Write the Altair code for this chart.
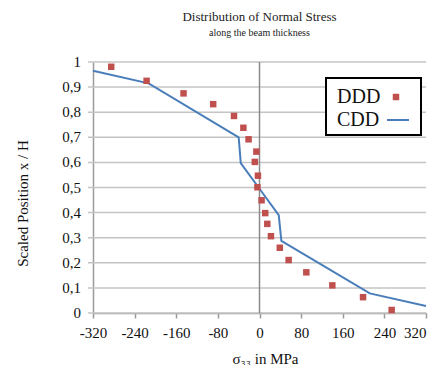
import altair as alt
import pandas as pd

# DDD (discrete) data points: stress in MPa, scaled position
ddd_stress = [-285, -217, -146, -89, -49, -31, -21, -6, -9, -3, -4, 4, 11, 15, 22, 39, 56, 90, 140, 199, 254]
ddd_pos = [0.981, 0.925, 0.875, 0.832, 0.785, 0.738, 0.692, 0.643, 0.602, 0.547, 0.501,
           0.449, 0.398, 0.355, 0.306, 0.260, 0.211, 0.162, 0.110, 0.063, 0.012]

# CDD (continuous) line
cdd_stress = [-320, -213, -40, -36, 0, 37, 42, 212, 320]
cdd_pos = [0.965, 0.915, 0.700, 0.597, 0.495, 0.390, 0.287, 0.078, 0.028]

x_ticks = [-320, -240, -160, -80, 0, 80, 160, 240, 320]
y_ticks = [0, 0.1, 0.2, 0.3, 0.4, 0.5, 0.6, 0.7, 0.8, 0.9, 1]
y_labels = ["0", "0,1", "0,2", "0,3", "0,4", "0,5", "0,6", "0,7", "0,8", "0,9", "1"]

ddd = pd.DataFrame({"s": ddd_stress, "p": ddd_pos})
cdd = pd.DataFrame({"s": cdd_stress, "p": cdd_pos, "o": list(range(len(cdd_stress)))})
yt = pd.DataFrame({"p": y_ticks, "lab": y_labels})

FONT = "Liberation Serif"
W, H = 333, 251

xscale = alt.Scale(domain=[-320, 320], nice=False, zero=False)
yscale = alt.Scale(domain=[0, 1], nice=False)

xaxis = alt.Axis(values=x_ticks, grid=False, title="σ₃₃ in MPa", titleX=172, titleY=45,
                 titleBaseline="middle", titleAlign="center",
                 labelExpr="replace(format(datum.value, 'd'), '−', '-')",
                 labelAlign={"condition": {"test": "datum.value >= 320", "value": "right"}, "value": "center"},
                 labelFlush=False, labelOverlap=False)
yaxis = alt.Axis(labels=False, ticks=False, grid=False, title="Scaled Position  x / H",
                 titleX=-71, titleY=141, titleAngle=-90, titleBaseline="middle", titleAlign="center")

X = alt.X("s:Q", scale=xscale, axis=xaxis)
Y = alt.Y("p:Q", scale=yscale, axis=yaxis)

grid = alt.Chart(yt).mark_rule(color="#c4c4c4", strokeWidth=1.5).encode(
    y=alt.Y("p:Q", scale=yscale, axis=yaxis), x=alt.value(-5), x2=alt.value(W))
ylab = alt.Chart(yt).mark_text(font=FONT, fontSize=15, align="right", baseline="middle",
                               color="#111").encode(
    y=alt.Y("p:Q", scale=yscale, axis=yaxis), x=alt.value(-12), text="lab:N")

points = alt.Chart(ddd).mark_square(size=42, color="#c0504d", opacity=1).encode(x=X, y=Y)

zero = alt.Chart(pd.DataFrame({"s": [0]})).mark_rule(color="#8a8a8a", strokeWidth=1.5).encode(x=X)

line = alt.Chart(cdd).mark_line(color="#4a7ebb", strokeWidth=2).encode(x=X, y=Y, order="o:Q")

one = pd.DataFrame({"a": [0]})
leg_box = alt.Chart(one).mark_rect(fill="white", stroke="black", strokeWidth=2).encode(
    x=alt.value(233), x2=alt.value(328), y=alt.value(16), y2=alt.value(73))
leg_t1 = alt.Chart(one).mark_text(font=FONT, fontSize=20, align="left", baseline="middle",
                                  color="#111").encode(x=alt.value(244), y=alt.value(35), text=alt.value("DDD"))
leg_t2 = alt.Chart(one).mark_text(font=FONT, fontSize=20, align="left", baseline="middle",
                                  color="#111").encode(x=alt.value(244), y=alt.value(58), text=alt.value("CDD"))
leg_sq = alt.Chart(one).mark_square(size=42, color="#c0504d", opacity=1).encode(
    x=alt.value(303), y=alt.value(35))
leg_ln = alt.Chart(one).mark_rule(color="#4a7ebb", strokeWidth=2).encode(
    x=alt.value(294), x2=alt.value(316), y=alt.value(58))

chart = alt.layer(grid, ylab, zero, line, points, leg_box, leg_t1, leg_t2, leg_sq, leg_ln).properties(
    width=W, height=H,
    padding={"left": 85, "top": 54, "right": 4, "bottom": 52},
    autosize=alt.AutoSizeParams(type="none"),
    title=alt.TitleParams(
        text="Distribution of Normal Stress",
        subtitle="along the beam thickness",
        font=FONT, fontSize=13, fontWeight="normal", color="#222",
        subtitleFont=FONT, subtitleFontSize=10, subtitleColor="#222",
        anchor="middle", offset=17, subtitlePadding=4,
    ),
).configure_view(stroke=None).configure_axis(
    labelFont=FONT, labelFontSize=15, labelColor="#111",
    titleFont=FONT, titleFontSize=15, titleFontWeight="normal", titleColor="#111",
    domainColor="#9a9a9a", domainWidth=1.5, tickColor="#9a9a9a", tickSize=5, tickWidth=1.5,
    labelPadding=7,
)

chart.save("out.html", embed_options={"renderer": "svg", "actions": False})
